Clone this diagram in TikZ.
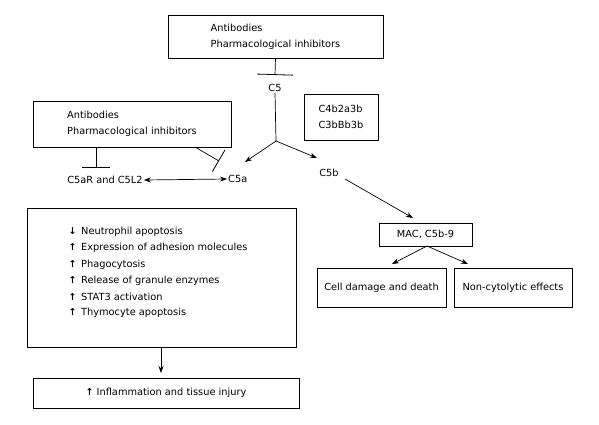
\documentclass[tikz,border=0pt]{standalone}
\usepackage{fontspec}
\setmainfont{DejaVu Sans}
\usetikzlibrary{arrows.meta}
\newcommand\myup{\makebox[12.5pt][l]{\fontsize{9.5}{8}\selectfont\bfseries↑}}
\newcommand\mydown{\makebox[12.5pt][l]{\fontsize{9.5}{8}\selectfont\bfseries↓}}
\begin{document}
\begin{tikzpicture}[x=1pt,y=-1pt,
  font=\fontsize{9.8}{16}\selectfont,
  box/.style={draw,line width=0.8pt,inner sep=0pt,align=left},
  lbl/.style={inner sep=1pt},
  conn/.style={line width=0.7pt},
  arr/.style={conn,-{Stealth[length=7pt,width=5pt]}},
  dbl/.style={conn,{Stealth[length=7pt,width=5pt]}-{Stealth[length=7pt,width=5pt]}},
  inh/.style={conn,-{Bar[width=#1,line width=0.8pt]}}]
\useasboundingbox (0,0) rectangle (599,424);
\node[box,minimum width=215pt,minimum height=43pt] (top) at (275.5,36.5)
  {Antibodies\\Pharmacological inhibitors};
\node[lbl] (c5) at (275,88) {C5};
\node[box,minimum width=74pt,minimum height=46pt] (conv) at (341,117)
  {C4b2a3b\\C3bBb3b};
\node[box,minimum width=198pt,minimum height=46pt] (left) at (132,124)
  {Antibodies\\Pharmacological inhibitors};
\node[lbl,anchor=west] (c5a) at (227,179) {C5a};
\node[lbl] (c5r) at (105,180) {C5aR and C5L2};
\node[lbl] (c5b) at (329,173) {C5b};
\node[box,minimum width=93pt,minimum height=23pt,align=center] (mac) at (425.5,234.5) {MAC, C5b-9};
\node[box,minimum width=129pt,minimum height=39pt,align=center] (cell) at (381.5,287.5) {Cell damage and death};
\node[box,minimum width=118pt,minimum height=39pt,align=center] (nonc) at (513,287.5) {Non-cytolytic effects};
\node[box,minimum width=269pt,minimum height=139pt] (big) at (161.5,277.5) {};
\foreach \t [count=\i] in {\mydown Neutrophil apoptosis,
    \myup Expression of adhesion molecules,
    \myup Phagocytosis,
    \myup Release of granule enzymes,
    \myup STAT3 activation,
    \myup Thymocyte apoptosis}
  \node[anchor=west,inner sep=0pt] (item\i) at (68.5,{232+16.2*(\i-1)}) {\t};
\node[box,minimum width=266pt,minimum height=30pt,align=center] (infl) at (166,393)
  {{\fontsize{9.5}{8}\selectfont\bfseries↑} Inflammation and tissue injury};
% connectors
\coordinate (topbar) at (275,75);
\draw[inh=36pt] (top.south) -- (topbar);
\coordinate (branch) at (276,141);
\coordinate (c5aend) at (245,162);
\coordinate (c5bend) at (317,158);
\draw[conn] (c5.south) -- (branch);
\draw[arr] (branch) -- (c5aend);
\draw[arr] (branch) -- (c5bend);
\coordinate (leftbar) at (96,168);
\draw[inh=28pt] (left.south -| leftbar) -- (leftbar);
\coordinate (diagstart) at (195,147);
\coordinate (diagbar) at (219,161);
\draw[inh=25pt] (diagstart) -- (diagbar);
\draw[dbl] (c5r.east) -- (c5a.west);
\coordinate (c5bstart) at (345,179);
\coordinate (macend) at (413,218);
\draw[arr] (c5bstart) -- (macend);
\coordinate (macsplit) at (427,246);
\coordinate (cellend) at (392,264);
\coordinate (noncend) at (468,264);
\draw[arr] (macsplit) -- (cellend);
\draw[arr] (macsplit) -- (noncend);
\coordinate (bigout) at (161,347);
\coordinate (inflend) at (161,373);
\draw[arr] (bigout) -- (inflend);
\end{tikzpicture}
\end{document}
